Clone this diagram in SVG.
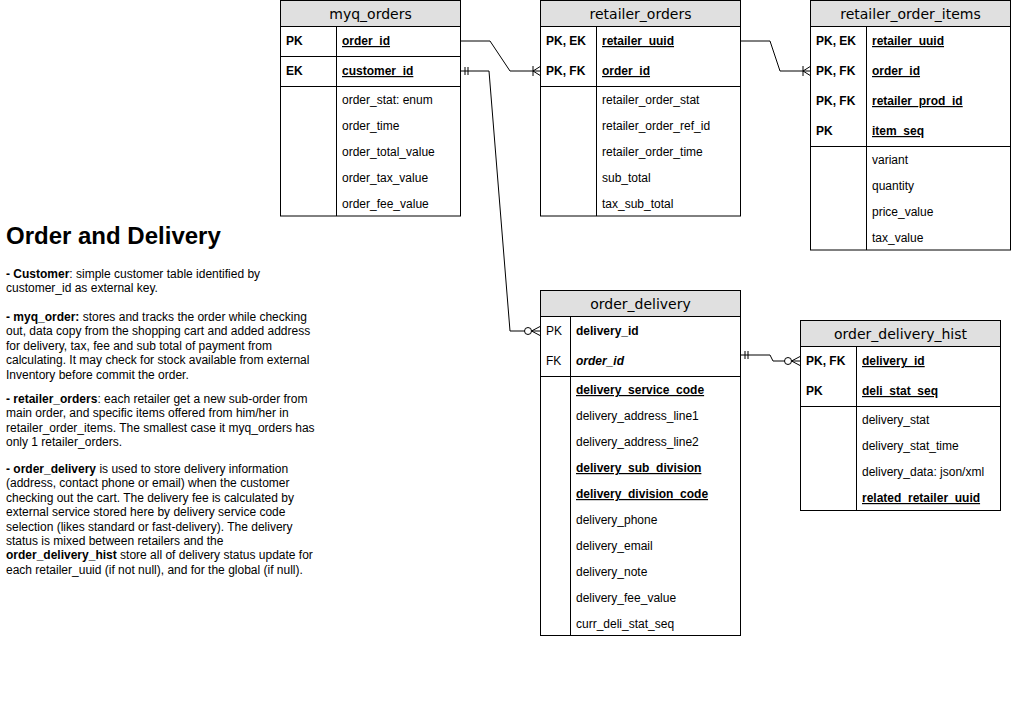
<svg xmlns="http://www.w3.org/2000/svg" width="1011" height="701" viewBox="0 0 1011 701">
<style>
  .box{fill:#fff;stroke:#000;stroke-width:1}
  .hdr{fill:#e0e0e0;stroke:#000;stroke-width:1}
  .ln{stroke:#000;stroke-width:1;fill:none}
  .ht{font-family:"DejaVu Sans",Verdana,sans-serif;font-size:14px;fill:#000;text-anchor:middle}
  .t{font-family:"Liberation Sans",Arial,Helvetica,sans-serif;font-size:12px;fill:#000}
  .b{font-weight:bold}
  .u{text-decoration:underline}
  .i{font-style:italic}
  .title{font-family:"Liberation Sans",Arial,Helvetica,sans-serif;font-size:24px;font-weight:bold;fill:#000}
  .conn{stroke:#000;stroke-width:1;fill:none}
</style>
<defs>
  <marker id="oneMany" markerUnits="userSpaceOnUse" markerWidth="20" markerHeight="20" refX="0" refY="0" orient="auto" overflow="visible">
    <path d="M-8,-5 V5 M-8,0 L0,-5 M-8,0 L0,5" fill="none" stroke="#000" stroke-width="1"/>
  </marker>
  <marker id="zeroMany" markerUnits="userSpaceOnUse" markerWidth="20" markerHeight="20" refX="0" refY="0" orient="auto" overflow="visible">
    <path d="M-9.5,0 L0,-5 M-9.5,0 L0,5" fill="none" stroke="#000" stroke-width="1"/>
    <circle cx="-13" cy="0" r="3.5" fill="#fff" stroke="#000" stroke-width="1"/>
  </marker>
  <marker id="mandOne" markerUnits="userSpaceOnUse" markerWidth="20" markerHeight="20" refX="0" refY="0" orient="auto" overflow="visible">
    <path d="M4,-4 V4 M7,-4 V4" fill="none" stroke="#000" stroke-width="1"/>
  </marker>
</defs>
<rect x="0" y="0" width="1011" height="701" fill="#fff"/>

<g id="connectors">
  <path class="conn" d="M461,41 H490 L510,71 H541" marker-end="url(#oneMany)"/>
  <path class="conn" d="M461,71 H489 L510,331 H541" marker-start="url(#mandOne)" marker-end="url(#zeroMany)"/>
  <path class="conn" d="M741,41 H770 L780,71 H811" marker-end="url(#oneMany)"/>
  <path class="conn" d="M741,355 H770 L773,361 H801" marker-start="url(#mandOne)" marker-end="url(#zeroMany)"/>
</g>

<g id="myq_orders">
  <rect class="box" x="280.5" y="0.5" width="180" height="215.5"/>
  <rect class="hdr" x="280.5" y="0.5" width="180" height="26"/>
  <path class="ln" d="M280.5,56.5 H460.5 M280.5,86.5 H460.5 M336.5,26.5 V216"/>
  <text class="ht" x="370.5" y="19">myq_orders</text>
  <text class="t b" x="286" y="45">PK</text>
  <text class="t b u" x="342" y="45">order_id</text>
  <text class="t b" x="286" y="75">EK</text>
  <text class="t b u" x="342" y="75">customer_id</text>
  <text class="t" x="342" y="104">order_stat: enum</text>
  <text class="t" x="342" y="130">order_time</text>
  <text class="t" x="342" y="156">order_total_value</text>
  <text class="t" x="342" y="182">order_tax_value</text>
  <text class="t" x="342" y="208">order_fee_value</text>
</g>

<g id="retailer_orders">
  <rect class="box" x="540.5" y="0.5" width="200" height="215.5"/>
  <rect class="hdr" x="540.5" y="0.5" width="200" height="26"/>
  <path class="ln" d="M540.5,86.5 H740.5 M596.5,26.5 V216"/>
  <text class="ht" x="640.5" y="19">retailer_orders</text>
  <text class="t b" x="546" y="45">PK, EK</text>
  <text class="t b u" x="602" y="45">retailer_uuid</text>
  <text class="t b" x="546" y="75">PK, FK</text>
  <text class="t b u" x="602" y="75">order_id</text>
  <text class="t" x="602" y="104">retailer_order_stat</text>
  <text class="t" x="602" y="130">retailer_order_ref_id</text>
  <text class="t" x="602" y="156">retailer_order_time</text>
  <text class="t" x="602" y="182">sub_total</text>
  <text class="t" x="602" y="208">tax_sub_total</text>
</g>

<g id="retailer_order_items">
  <rect class="box" x="810.5" y="0.5" width="200" height="249.5"/>
  <rect class="hdr" x="810.5" y="0.5" width="200" height="26"/>
  <path class="ln" d="M810.5,146.5 H1010.5 M866.5,26.5 V250"/>
  <text class="ht" x="910.5" y="19">retailer_order_items</text>
  <text class="t b" x="816" y="45">PK, EK</text>
  <text class="t b u" x="872" y="45">retailer_uuid</text>
  <text class="t b" x="816" y="75">PK, FK</text>
  <text class="t b u" x="872" y="75">order_id</text>
  <text class="t b" x="816" y="105">PK, FK</text>
  <text class="t b u" x="872" y="105">retailer_prod_id</text>
  <text class="t b" x="816" y="135">PK</text>
  <text class="t b u" x="872" y="135">item_seq</text>
  <text class="t" x="872" y="164">variant</text>
  <text class="t" x="872" y="190">quantity</text>
  <text class="t" x="872" y="216">price_value</text>
  <text class="t" x="872" y="242">tax_value</text>
</g>

<g id="order_delivery">
  <rect class="box" x="540.5" y="290.5" width="200" height="345"/>
  <rect class="hdr" x="540.5" y="290.5" width="200" height="26"/>
  <path class="ln" d="M540.5,376.5 H740.5 M570.5,316.5 V635.5"/>
  <text class="ht" x="640.5" y="309">order_delivery</text>
  <text class="t" x="546" y="335">PK</text>
  <text class="t b" x="576" y="335">delivery_id</text>
  <text class="t" x="546" y="365">FK</text>
  <text class="t b i" x="576" y="365">order_id</text>
  <text class="t b u" x="576" y="394">delivery_service_code</text>
  <text class="t" x="576" y="420">delivery_address_line1</text>
  <text class="t" x="576" y="446">delivery_address_line2</text>
  <text class="t b u" x="576" y="472">delivery_sub_division</text>
  <text class="t b u" x="576" y="498">delivery_division_code</text>
  <text class="t" x="576" y="524">delivery_phone</text>
  <text class="t" x="576" y="550">delivery_email</text>
  <text class="t" x="576" y="576">delivery_note</text>
  <text class="t" x="576" y="602">delivery_fee_value</text>
  <text class="t" x="576" y="628">curr_deli_stat_seq</text>
</g>

<g id="order_delivery_hist">
  <rect class="box" x="800.5" y="320.5" width="200" height="190"/>
  <rect class="hdr" x="800.5" y="320.5" width="200" height="26"/>
  <path class="ln" d="M800.5,406.5 H1000.5 M856.5,346.5 V510.5"/>
  <text class="ht" x="900.5" y="339">order_delivery_hist</text>
  <text class="t b" x="806" y="365">PK, FK</text>
  <text class="t b u" x="862" y="365">delivery_id</text>
  <text class="t b" x="806" y="395">PK</text>
  <text class="t b u" x="862" y="395">deli_stat_seq</text>
  <text class="t" x="862" y="424">delivery_stat</text>
  <text class="t" x="862" y="450">delivery_stat_time</text>
  <text class="t" x="862" y="476">delivery_data: json/xml</text>
  <text class="t b u" x="862" y="502">related_retailer_uuid</text>
</g>

<g id="description">
  <text class="title" x="6" y="244">Order and Delivery</text>
  <text class="t" x="6" y="278"><tspan class="b">- Customer</tspan>: simple customer table identified by</text>
  <text class="t" x="6" y="292.4">customer_id as external key.</text>
  <text class="t" x="6" y="321"><tspan class="b">- myq_order:</tspan> stores and tracks the order while checking</text>
  <text class="t" x="6" y="335.4">out, data copy from the shopping cart and added address</text>
  <text class="t" x="6" y="349.8">for delivery, tax, fee and sub total of payment from</text>
  <text class="t" x="6" y="364.2">calculating. It may check for stock available from external</text>
  <text class="t" x="6" y="378.6">Inventory before commit the order.</text>
  <text class="t" x="6" y="403"><tspan class="b">- retailer_orders</tspan>: each retailer get a new sub-order from</text>
  <text class="t" x="6" y="417.4">main order, and specific items offered from him/her in</text>
  <text class="t" x="6" y="431.8">retailer_order_items. The smallest case it myq_orders has</text>
  <text class="t" x="6" y="446.2">only 1 retailer_orders.</text>
  <text class="t" x="6" y="473"><tspan class="b">- order_delivery</tspan> is used to store delivery information</text>
  <text class="t" x="6" y="487.4">(address, contact phone or email) when the customer</text>
  <text class="t" x="6" y="501.8">checking out the cart. The delivery fee is calculated by</text>
  <text class="t" x="6" y="516.2">external service stored here by delivery service code</text>
  <text class="t" x="6" y="530.6">selection (likes standard or fast-delivery). The delivery</text>
  <text class="t" x="6" y="545">status is mixed between retailers and the</text>
  <text class="t" x="6" y="559.4"><tspan class="b">order_delivery_hist</tspan> store all of delivery status update for</text>
  <text class="t" x="6" y="573.8">each retailer_uuid (if not null), and for the global (if null).</text>
</g>
</svg>
